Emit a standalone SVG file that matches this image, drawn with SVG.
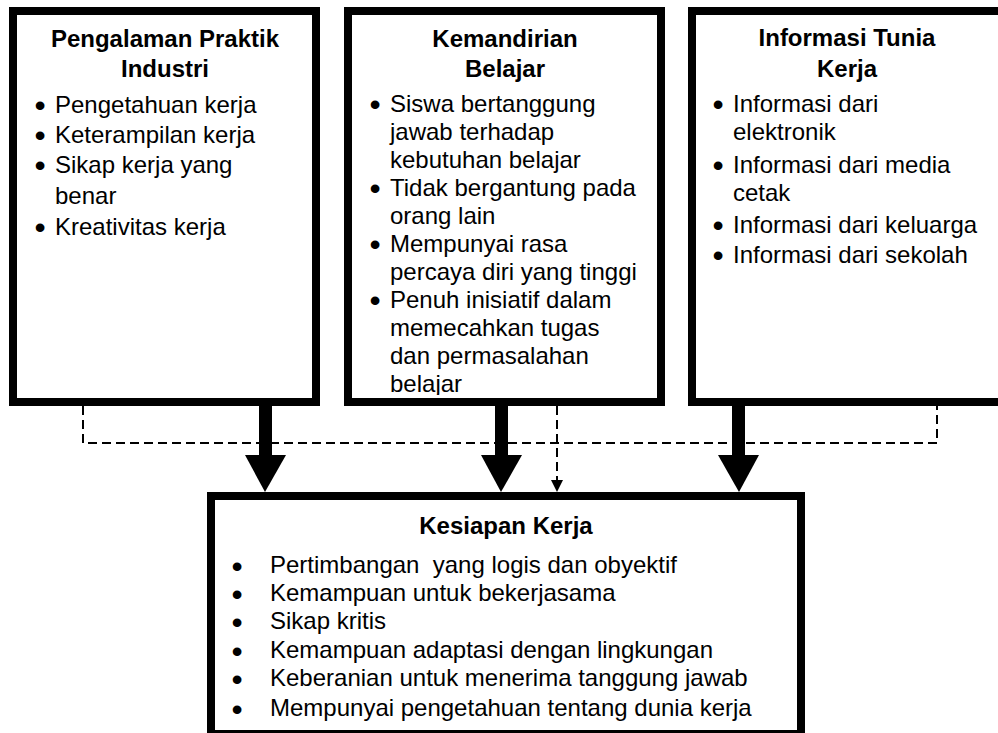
<svg xmlns="http://www.w3.org/2000/svg" width="998" height="733" viewBox="0 0 998 733">
<defs>
<style>
.box{fill:#fff;stroke:#000;stroke-width:8}
text{font-family:"Liberation Sans",Arial,sans-serif;font-size:24px;fill:#000}
.t{font-weight:bold;text-anchor:middle}
.b{text-anchor:middle;font-size:32px}
.dash{fill:none;stroke:#000;stroke-width:2;stroke-dasharray:9 5}
</style>
<clipPath id="c2"><rect x="352" y="15" width="305" height="380"/></clipPath>
<clipPath id="c4"><rect x="215" y="500" width="582" height="222"/></clipPath>
</defs>
<g id="connectors">
<path class="dash" d="M83,406 V443 H937 V406"/>
<path class="dash" d="M557,406 V482"/>
<polygon points="551,480 563,480 557,492" fill="#000"/>
<rect x="259" y="405" width="13" height="51" fill="#000"/>
<polygon points="245,455 286,455 265,492" fill="#000"/>
<rect x="495" y="405" width="13" height="51" fill="#000"/>
<polygon points="481,455 522,455 501,492" fill="#000"/>
<rect x="732" y="405" width="13" height="51" fill="#000"/>
<polygon points="718,455 759,455 739,492" fill="#000"/>
</g>
<g id="node-pengalaman">
<rect class="box" x="13" y="11" width="303" height="391"/>
<text class="t" x="165" y="47">Pengalaman Praktik</text>
<text class="t" x="165" y="77">Industri</text>
<text class="b" x="40" y="116">•</text><text x="55" y="113">Pengetahuan kerja</text>
<text class="b" x="40" y="146">•</text><text x="55" y="143">Keterampilan kerja</text>
<text class="b" x="40" y="176">•</text><text x="55" y="173">Sikap kerja yang</text>
<text x="55" y="204">benar</text>
<text class="b" x="40" y="238">•</text><text x="55" y="235">Kreativitas kerja</text>
</g>
<g id="node-kemandirian">
<rect class="box" x="348" y="11" width="313" height="391"/>
<text class="t" x="505" y="47">Kemandirian</text>
<text class="t" x="505" y="77">Belajar</text>
<g clip-path="url(#c2)">
<text class="b" x="375" y="115">•</text><text x="390" y="112">Siswa bertanggung</text>
<text x="390" y="140">jawab terhadap</text>
<text x="390" y="168">kebutuhan belajar</text>
<text class="b" x="375" y="199">•</text><text x="390" y="196">Tidak bergantung pada</text>
<text x="390" y="224">orang lain</text>
<text class="b" x="375" y="255">•</text><text x="390" y="252">Mempunyai rasa</text>
<text x="390" y="280">percaya diri yang tinggi</text>
<text class="b" x="375" y="311">•</text><text x="390" y="308">Penuh inisiatif dalam</text>
<text x="390" y="336">memecahkan tugas</text>
<text x="390" y="364">dan permasalahan</text>
<text x="390" y="392">belajar</text>
</g>
</g>
<g id="node-informasi">
<rect class="box" x="692" y="11" width="310" height="391"/>
<text class="t" x="847" y="46">Informasi Tunia</text>
<text class="t" x="847" y="77">Kerja</text>
<text class="b" x="718" y="115">•</text><text x="733" y="112">Informasi dari</text>
<text x="733" y="140">elektronik</text>
<text class="b" x="718" y="176">•</text><text x="733" y="173">Informasi dari media</text>
<text x="733" y="201">cetak</text>
<text class="b" x="718" y="236">•</text><text x="733" y="233">Informasi dari keluarga</text>
<text class="b" x="718" y="266">•</text><text x="733" y="263">Informasi dari sekolah</text>
</g>
<g id="node-kesiapan">
<rect class="box" x="211" y="496" width="590" height="238"/>
<text class="t" x="506" y="534">Kesiapan Kerja</text>
<g clip-path="url(#c4)">
<text class="b" x="237" y="577">•</text><text x="270" y="573" xml:space="preserve">Pertimbangan  yang logis dan obyektif</text>
<text class="b" x="237" y="605">•</text><text x="270" y="601">Kemampuan untuk bekerjasama</text>
<text class="b" x="237" y="633">•</text><text x="270" y="629">Sikap kritis</text>
<text class="b" x="237" y="662">•</text><text x="270" y="658">Kemampuan adaptasi dengan lingkungan</text>
<text class="b" x="237" y="690">•</text><text x="270" y="686">Keberanian untuk menerima tanggung jawab</text>
<text class="b" x="237" y="720">•</text><text x="270" y="716">Mempunyai pengetahuan tentang dunia kerja</text>
</g>
</g>
</svg>
